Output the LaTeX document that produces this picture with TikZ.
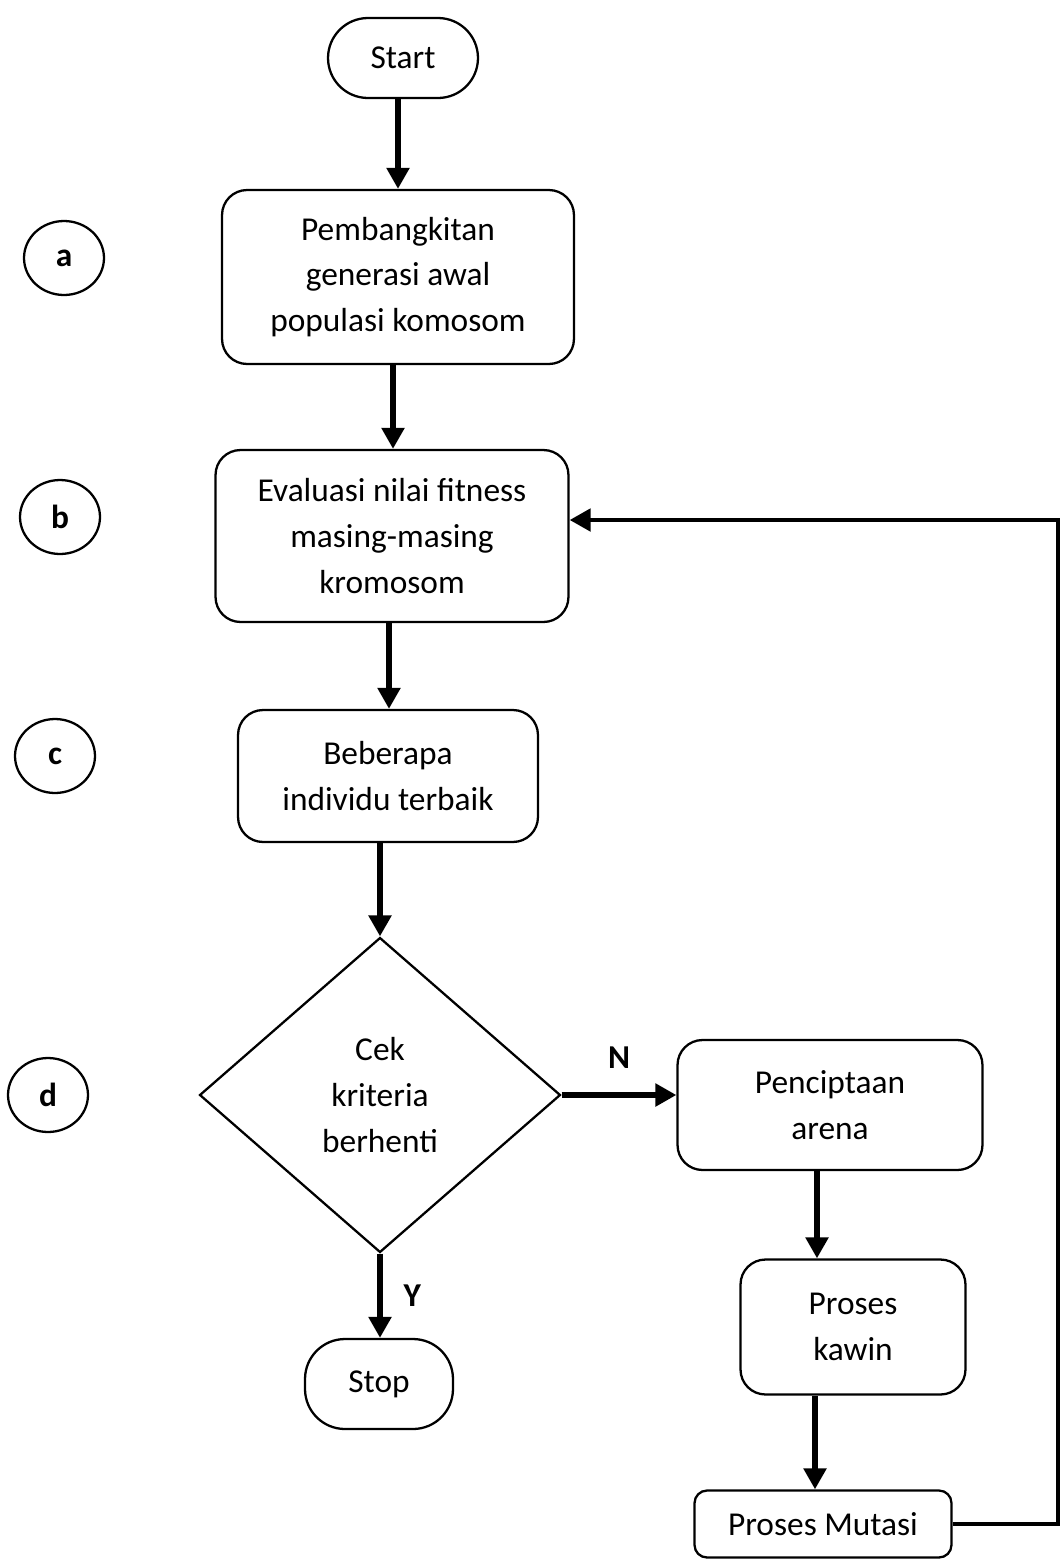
\documentclass[tikz,border=0pt]{standalone}
\usepackage{fontspec}
\setmainfont{Carlito}
\usetikzlibrary{shapes.geometric,arrows.meta}
\tikzset{
  box/.style={draw, line width=1.3pt, rounded corners=0.5cm, align=center,
    inner sep=0pt},
  term/.style={box, rounded corners=0.8cm},
  tag/.style={draw, ellipse, line width=1.3pt, minimum width=1.6cm,
    minimum height=1.48cm, inner sep=0pt, font=\fontsize{19}{26}\selectfont\bfseries},
  lbl/.style={font=\fontsize{19}{26}\selectfont\bfseries},
  arr/.style={line width=3.2pt, -{Triangle[length=0.42cm,width=0.44cm]}},
}
\begin{document}
\begin{tikzpicture}[x=0.02cm,y=-0.02cm,font=\fontsize{19}{26}\selectfont]
  \useasboundingbox (0,0) rectangle (1064,1559);
  % left markers
  \node[tag] (ta) at (64,258) {a};
  \node[tag] (tb) at (60,517) {b};
  \node[tag] (tc) at (55,756) {c};
  \node[tag] (td) at (48,1095) {d};
  % main column
  \node[term, minimum width=3cm, minimum height=1.6cm] (start) at (403,58) {Start};
  \node[box, minimum width=7.04cm, minimum height=3.48cm] (a) at (398,277)
    {Pembangkitan\\generasi awal\\populasi komosom};
  \node[box, minimum width=7.06cm, minimum height=3.44cm] (b) at (392,536)
    {Evaluasi nilai fitness\\masing-masing\\kromosom};
  \node[box, minimum width=6cm, minimum height=2.64cm] (c) at (388,776)
    {Beberapa\\individu terbaik};
  \node[draw, diamond, line width=1.3pt, minimum width=7.22cm, minimum height=6.3cm,
    inner sep=0pt, align=center] (cek) at (380,1095) {Cek\\kriteria\\berhenti};
  \node[term, minimum width=2.96cm, minimum height=1.8cm] (stop) at (379,1384) {Stop};
  % right column
  \node[box, minimum width=6.1cm, minimum height=2.6cm] (arena) at (830,1105)
    {Penciptaan\\arena};
  \node[box, minimum width=4.5cm, minimum height=2.7cm] (kawin) at (853,1327)
    {Proses\\kawin};
  \node[box, rounded corners=0.25cm, minimum width=5.14cm, minimum height=1.34cm]
    (mutasi) at (823,1524) {Proses Mutasi};
  \coordinate (loop) at (1058,520);
  % connectors
  \draw[arr] (start.south -| 398,0) -- (a.north -| 398,0);
  \draw[arr] (a.south -| 393,0) -- (b.north -| 393,0);
  \draw[arr] (b.south -| 389,0) -- (c.north -| 389,0);
  \draw[arr] (c.south -| cek.north) -- (cek.north);
  \draw[arr] (cek.south) -- (cek.south |- stop.north) node[midway, right=0.3cm, lbl] {Y};
  \draw[arr] (cek.east) -- (cek.east -| arena.west) node[midway, above=0.35cm, lbl] {N};
  \draw[arr] (arena.south -| 817,0) -- (kawin.north -| 817,0);
  \draw[arr] (kawin.south -| 815,0) -- (mutasi.north -| 815,0);
  \draw[line width=2.8pt, -{Triangle[length=0.42cm,width=0.44cm]}]
    (mutasi.east) -| (loop) -- (loop -| b.east);
\end{tikzpicture}
\end{document}
